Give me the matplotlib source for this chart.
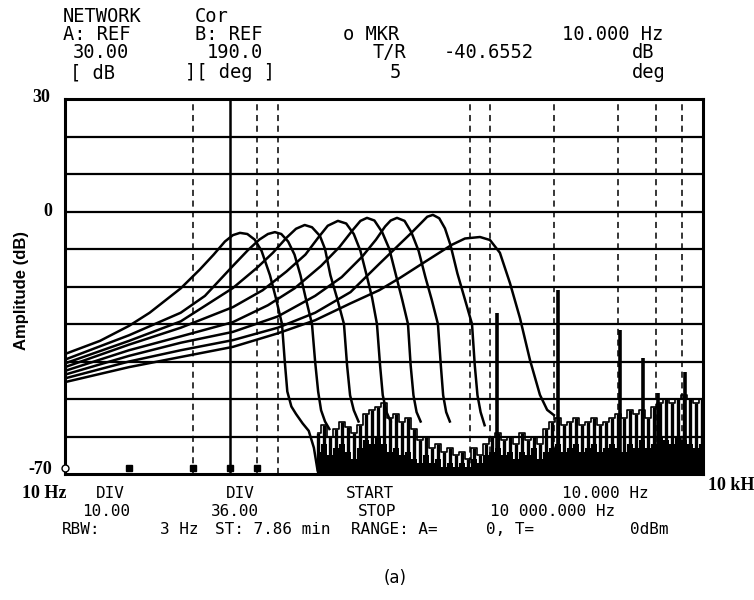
import matplotlib
matplotlib.use("Agg")
import matplotlib.pyplot as plt
from matplotlib.ticker import NullLocator

W, H = 754, 600

# band-pass responses (Hz, dB)
c1_f = [10, 14.6, 20, 25, 35, 43, 50, 56.5, 61.6, 66.5, 72, 78, 84, 92, 98, 104.8, 108, 111, 116, 122, 131, 140, 148, 154]
c1_db = [-38, -34.5, -30.5, -27, -20.5, -15.5, -11.5, -8, -6.3, -5.7, -6, -7.5, -10.5, -17, -23, -30, -40, -48, -52, -54, -56.5, -58.5, -63, -69]

c2_f = [10, 20, 35, 45.5, 61.6, 72.5, 82, 90, 97, 104, 112, 120, 128, 136, 145, 150, 155, 160, 167, 175]
c2_db = [-39.5, -33, -27, -22.5, -14.5, -10.3, -7.5, -6, -5.5, -6, -8, -11.5, -17, -23.5, -30, -40, -48, -53, -56, -58]

c3_f = [10, 20, 35, 61.6, 80, 95, 110, 122, 134, 145, 158, 167, 177, 190, 205, 212, 219, 228, 240]
c3_db = [-40.5, -34.5, -29.3, -20.4, -15, -11, -7, -4.6, -3.6, -4.2, -6.5, -10, -17, -23, -30, -41, -49, -53, -56]

c4_f = [10, 20, 35, 61.6, 85, 110, 135, 155, 172, 192, 210, 228, 245, 262, 278, 293, 303, 312, 325, 340]
c4_db = [-41.5, -35.5, -31, -25.5, -21, -16, -11.5, -7, -3.8, -2.5, -3.2, -6, -10.5, -17, -23, -30, -41, -49, -53.5, -56]

c5_f = [10, 20, 35, 61.6, 90, 120, 160, 195, 225, 245, 263, 285, 310, 335, 360, 385, 410, 422, 435, 450, 470]
c5_db = [-42.5, -37, -33.3, -29.5, -25, -20.5, -14.5, -9.5, -5, -2.5, -1.7, -2.4, -5.5, -10, -17, -23.5, -30, -41, -49, -53.5, -56]

c6_f = [10, 20, 35, 61.6, 100, 150, 200, 250, 290, 320, 340, 364, 395, 425, 460, 495, 530, 567, 585, 600, 620, 645]
c6_db = [-43.5, -38.5, -35, -32.1, -28, -22.5, -17.5, -12, -7.5, -4, -2.4, -1.7, -2.5, -5.5, -10.5, -17.5, -23.5, -30, -41, -49, -53.5, -56]

c7_f = [10, 20, 35, 61.6, 100, 150, 220, 300, 370, 420, 470, 505, 537, 575, 612, 650, 700, 760, 820, 845, 870, 900, 940]
c7_db = [-44.5, -40, -37, -34.3, -31, -27, -21.5, -14, -9, -6, -3.2, -1.4, -0.9, -1.8, -4.5, -9, -16.5, -23.5, -30, -41, -49, -53.5, -57]

c8_f = [10, 20, 35, 61.6, 100, 150, 220, 300, 376, 500, 658, 760, 894, 996, 1109, 1237, 1378, 1536, 1711, 1850, 1990]
c8_db = [-45.5, -41.5, -38.8, -36.1, -32.5, -29, -24.5, -21, -17.7, -13.2, -8.9, -7.2, -6.8, -7.6, -11, -19.1, -28.4, -39.6, -48.9, -52.9, -54.3]

curves = [(c1_f, c1_db), (c2_f, c2_db), (c3_f, c3_db), (c4_f, c4_db),
          (c5_f, c5_db), (c6_f, c6_db), (c7_f, c7_db), (c8_f, c8_db)]

# noise floor: upper trace and dense lower band
noise_f = [155, 165, 176, 188, 201, 214, 228, 244, 260, 278, 296, 316, 337, 360, 384, 410, 437, 467, 498, 531,
           567, 605, 646, 689, 735, 785, 837, 894, 953, 1017, 1086, 1159, 1236, 1319, 1408, 1502, 1603, 1711, 1826, 1948,
           2079, 2218, 2367, 2526, 2695, 2876, 3069, 3275, 3495, 3729, 3980, 4247, 4532, 4836, 5160, 5507, 5876, 6270,
           6691, 7140, 7619, 8130, 8676, 9258, 9880]
noise_top = [-59, -57, -60, -58, -56, -57.5, -59, -57, -54, -53, -52, -51, -55, -54, -56, -55, -58, -61, -60, -63,
             -62, -64, -63, -65, -64, -66, -63, -65, -62, -60, -59, -61, -60, -62, -59, -61, -60, -62, -58, -56,
             -55, -57, -56, -55, -57, -56, -55, -57, -56, -55, -54, -55, -53, -54, -53, -55, -52, -51,
             -50, -51, -50, -49, -50, -51, -50]
noise_low = [-64, -62, -65, -63, -62, -64, -66, -63, -61, -62, -60, -62, -64, -63, -65, -64, -66, -67, -65, -67,
             -66, -68, -67, -68, -67, -68, -66, -67, -65, -64, -63, -65, -64, -66, -64, -65, -63, -66, -64, -63,
             -62, -64, -63, -62, -64, -63, -62, -64, -63, -62, -63, -64, -62, -63, -61, -63, -62,
             -60, -61, -62, -60, -61, -62, -63, -62]

# discrete lines sticking out of the floor
spike_f = [1074, 2080, 4066, 5212, 6133, 8222]
spike_top = [-27, -21, -31.5, -39, -48.5, -42.8]

marker_f = [20, 40, 60, 80]
marker_db = [-68.5, -68.5, -68.5, -68.5]

grid_db = [20, 10, 0, -10, -20, -30, -40, -50, -60]
grid_f = [40, 80, 100, 800, 1000, 2000, 4000, 6000, 8000]

header = [
    (63, 17, "NETWORK"), (195, 17, "Cor"),
    (63, 35, "A: REF"), (195, 35, "B: REF"), (343, 35, "o MKR"), (562, 35, "10.000 Hz"),
    (73, 53, "30.00"), (207, 53, "190.0"), (373, 53, "T/R"), (444, 53, "-40.6552"), (632, 53, "dB"),
    (70, 73, "[ dB"), (185, 73, "][ deg ]"), (390, 73, "5"), (632, 73, "deg"),
]
footer = [
    (96, 493, "DIV"), (226, 493, "DIV"), (346, 493, "START"), (562, 493, "10.000 Hz"),
    (82, 511, "10.00"), (211, 511, "36.00"), (358, 511, "STOP"), (490, 511, "10 000.000 Hz"),
    (62, 529, "RBW:"), (160, 529, "3 Hz"), (215, 529, "ST: 7.86 min"), (351, 529, "RANGE: A="),
    (486, 529, "0, T="), (630, 529, "0dBm"),
]


def put(fig, x, y, s, **kw):
    kw.setdefault("va", "center")
    kw.setdefault("ha", "left")
    fig.text(x / W, 1 - y / H, s, **kw)


def main():
    fig = plt.figure(figsize=(W / 100, H / 100), dpi=100)
    ax = fig.add_axes([65 / W, 1 - 474 / H, 638 / W, 375 / H])
    ax.set_xscale("log")
    ax.set_xlim(10, 10000)
    ax.set_ylim(-70, 30)
    ax.xaxis.set_major_locator(NullLocator())
    ax.xaxis.set_minor_locator(NullLocator())
    ax.yaxis.set_major_locator(NullLocator())
    for sp in ax.spines.values():
        sp.set_linewidth(2.2)

    # screen graticule
    for v in grid_db:
        ax.axhline(v, color="k", lw=1.6, zorder=1)
    for f in grid_f:
        ax.axvline(f, color="k", lw=1.1, ls=(0, (4, 3)), zorder=1)
    ax.axvline(60, color="k", lw=1.8, zorder=1)

    # noise floor
    ax.fill_between(noise_f, -70, noise_low, step="mid", color="k", lw=0, zorder=2)
    ax.vlines(noise_f, -70, noise_top, color="k", lw=2.4, zorder=2)
    ax.step(noise_f, noise_top, where="mid", color="k", lw=1.2, zorder=2)
    ax.vlines(spike_f, -70, spike_top, color="k", lw=2.6, zorder=2)

    for f, db in curves:
        ax.plot(f, db, color="k", lw=1.8, zorder=3, solid_joinstyle="round")

    ax.plot(marker_f, marker_db, "s", color="k", ms=4, zorder=3)
    ax.plot([10], [-68.5], "o", mfc="white", mec="k", ms=5, clip_on=False, zorder=4)

    for x, y, s in header:
        put(fig, x, y, s, family="DejaVu Sans Mono", fontsize=13.5, color="k")
    for x, y, s in footer:
        put(fig, x, y, s, family="DejaVu Sans Mono", fontsize=11.5, color="k")

    lab = dict(family="Liberation Serif", fontweight="bold", fontsize=13, color="k")
    put(fig, 50, 98, "30", ha="right", **lab)
    put(fig, 52, 212, "0", ha="right", **lab)
    put(fig, 52, 470, "-70", ha="right", **lab)
    put(fig, 22, 493, "10 Hz", **lab)
    put(fig, 708, 486, "10 kH", **lab)
    put(fig, 22, 290, "Amplitude (dB)", ha="center", rotation=90,
        family="Liberation Sans", fontweight="bold", fontsize=12)
    put(fig, 395, 578, "(a)", ha="center", family="DejaVu Sans", fontsize=12)

    fig.savefig("out.png", dpi=100)


if __name__ == "__main__":
    main()
